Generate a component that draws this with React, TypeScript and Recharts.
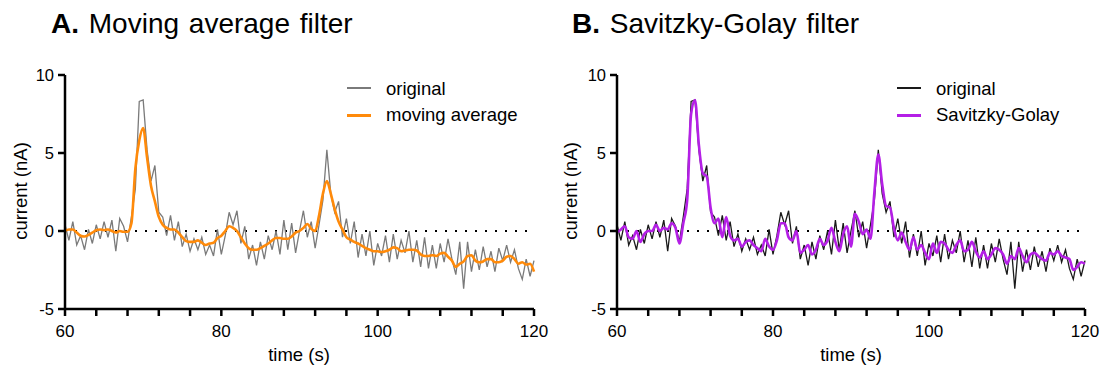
import React from 'react';
import { LineChart, Line, XAxis, YAxis, ReferenceLine } from 'recharts';

const FONT = '"Liberation Sans", Arial, Helvetica, sans-serif';

// time (s), sampled every 0.5 s
const TIME = [
  60, 60.5, 61, 61.5, 62, 62.5, 63, 63.5, 64, 64.5,
  65, 65.5, 66, 66.5, 67, 67.5, 68, 68.5, 69, 69.5,
  70, 70.5, 71, 71.5, 72, 72.5, 73, 73.5, 74, 74.5,
  75, 75.5, 76, 76.5, 77, 77.5, 78, 78.5, 79, 79.5,
  80, 80.5, 81, 81.5, 82, 82.5, 83, 83.5, 84, 84.5,
  85, 85.5, 86, 86.5, 87, 87.5, 88, 88.5, 89, 89.5,
  90, 90.5, 91, 91.5, 92, 92.5, 93, 93.5, 94, 94.5,
  95, 95.5, 96, 96.5, 97, 97.5, 98, 98.5, 99, 99.5,
  100, 100.5, 101, 101.5, 102, 102.5, 103, 103.5, 104, 104.5,
  105, 105.5, 106, 106.5, 107, 107.5, 108, 108.5, 109, 109.5,
  110, 110.5, 111, 111.5, 112, 112.5, 113, 113.5, 114, 114.5,
  115, 115.5, 116, 116.5, 117, 117.5, 118, 118.5, 119, 119.5,
  120,
];

// current (nA)
const ORIGINAL = [
  0.4, -0.6, 0.6, -0.9, -0.3, -1.2, 0.1, -0.8, 0.4, -0.5,
  0.6, -0.4, 0.7, -1.3, 0.8, 0.3, -0.7, 0.9, 2.7, 8.3,
  8.4, 5.2, 3.2, 4.2, 1.2, 0.9, -0.3, 1.0, -0.6, 0.6,
  -1.0, -0.2, -1.3, -0.5, -1.2, -0.4, -1.5, -0.9, -1.6, 0.1,
  -1.5, -0.3, 1.2, 0.4, 1.3, -0.8, 0.3, -1.8, -0.9, -2.2,
  -0.7, -1.8, -0.3, -1.2, 0.0, -1.5, 0.7, -1.2, 0.5, -1.4,
  0.0, 1.3, -0.4, 0.6, -1.1, 0.4, 2.0, 5.2, 2.4, 1.2,
  1.9, -0.4, 0.8, -0.8, 0.6, -1.7, -0.2, -1.6, 0.0, -2.2,
  -0.8, -1.6, -0.3, -2.0, -0.2, -1.8, -0.6, -1.4, 0.0, -2.0,
  -0.6, -2.3, -0.4, -2.4, -0.9, -2.4, -0.8, -2.0, -0.5, -1.8,
  -2.8, -0.7, -3.7, -0.7, -2.6, -1.2, -2.5, -1.0, -2.3, -1.3,
  -2.6, -1.1, -1.9, -0.9, -2.0, -1.2, -2.4, -3.1, -1.8, -2.9,
  -1.9,
];

const MOVING_AVG = [
  0.0, 0.1, 0.1, -0.1, -0.3, -0.35, -0.25, -0.1, 0.05, 0.1,
  0.05, 0.1, 0.0, -0.1, 0.0, -0.05, -0.05, 0.5, 4.0, 5.8,
  6.6, 4.7, 2.9, 1.9, 0.9, 0.4, 0.2, 0.1, 0.1, -0.1,
  -0.4, -0.65, -0.7, -0.7, -0.6, -0.75, -0.9, -0.8, -0.75, -0.45,
  -0.3, 0.0, 0.3, 0.2, 0.0, -0.4, -0.8, -1.1, -1.2, -1.2,
  -1.1, -0.95, -0.8, -0.6, -0.45, -0.45, -0.5, -0.5, -0.35, -0.1,
  0.0, 0.2, 0.45, 0.15, 0.0, 1.0, 2.4, 3.2, 2.4, 1.4,
  0.6, 0.1, -0.4, -0.55, -0.7, -0.8, -0.95, -1.1, -1.2, -1.3,
  -1.3, -1.35, -1.3, -1.2, -1.05, -1.1, -1.3, -1.25, -1.2, -1.2,
  -1.25, -1.5, -1.6, -1.6, -1.55, -1.6, -1.45, -1.4, -1.65, -1.9,
  -2.3, -2.1, -1.95, -1.6, -1.55, -1.9, -2.0, -1.95, -1.8, -1.8,
  -2.0, -2.0, -1.9, -1.65, -1.6, -1.8, -2.1, -2.0, -2.15, -2.1,
  -2.6,
];

const SAVGOL = [
  -0.1, 0.1, 0.3, -0.4, -0.5, 0.0, -0.7, -0.2, 0.0, 0.0,
  0.4, 0.0, 0.2, 0.1, 0.5, 0.2, -0.8, 0.5, 2.0, 7.5,
  8.4, 5.5, 3.7, 3.5, 1.5, 0.5, 0.8, -0.4, 0.9, -0.3,
  -0.6, -0.5, -1.0, -0.7, -0.6, -0.9, -1.1, -1.3, -0.5, -1.0,
  -1.2, -0.6, 0.5, 0.5, -0.4, -0.6, 0.0, -1.4, -1.2, -0.9,
  -1.5, -1.2, -0.5, -0.9, -0.6, 0.2, -0.7, -1.3, -0.2, 0.3,
  -1.0, 1.1, 0.6, -0.2, 0.1, -0.5, 2.5, 4.9, 3.0, 1.6,
  1.5, 0.2, -0.6, -0.1, -0.7, -1.2, -0.4, -1.2, -0.9, -1.4,
  -1.8, -0.8, -1.4, -0.7, -0.8, -1.2, -1.4, -0.9, -0.6, -1.3,
  -1.2, -0.7, -1.3, -1.7, -1.3, -1.8, -1.5, -1.1, -1.2, -1.5,
  -2.1, -1.6, -1.8, -1.1, -1.6, -2.0, -1.5, -1.4, -1.6, -1.8,
  -1.9, -1.4, -1.5, -1.3, -1.6, -1.7, -1.8, -2.5, -2.3, -2.0,
  -2.1,
];

const X_TICKS = [60, 64, 68, 72, 76, 80, 84, 88, 92, 96, 100, 104, 108, 112, 116, 120];
const Y_TICKS = [-5, 0, 5, 10];

const rows = TIME.map((t, i) => ({ t, orig: ORIGINAL[i], ma: MOVING_AVG[i], sg: SAVGOL[i] }));

function Panel({ left, letter, title, titleLeft, yWidth, plotRight, xLabelX, filtKey, filtName, filtColor, origColor }: any) {
  return (
    <div style={{ position: 'absolute', left, top: 0, width: 550, height: 369 }}>
      <div style={{ position: 'absolute', left: titleLeft, top: 8, fontSize: 28, fontFamily: FONT, color: '#000', whiteSpace: 'nowrap', wordSpacing: 2 }}>
        <b>{letter}</b> {title}
      </div>
      <LineChart width={550} height={369} data={rows} margin={{ top: 75, right: 550 - plotRight, bottom: 10, left: 0 }}>
        <XAxis
          dataKey="t"
          type="number"
          domain={[60, 120]}
          ticks={X_TICKS}
          interval={0}
          tickFormatter={(v: number) => (v % 20 === 0 ? String(v) : '')}
          height={50}
          axisLine={{ stroke: '#000', strokeWidth: 2.5 }}
          tickLine={{ stroke: '#000', strokeWidth: 2.5 }}
          tickSize={7}
          tickMargin={9}
          tick={{ fill: '#000', fontSize: 17, fontFamily: FONT }}
        />
        <YAxis
          type="number"
          domain={[-5, 10]}
          ticks={Y_TICKS}
          interval={0}
          width={yWidth}
          axisLine={{ stroke: '#000', strokeWidth: 2.5 }}
          tickLine={{ stroke: '#000', strokeWidth: 2.5 }}
          tickSize={7}
          tickMargin={4}
          tick={{ fill: '#000', fontSize: 16.5, fontFamily: FONT }}
        />
        <ReferenceLine y={0} stroke="#000" strokeWidth={2} strokeDasharray="2 8" />
        <Line type="linear" dataKey="orig" stroke={origColor} strokeWidth={1.3} dot={false} isAnimationActive={false} />
        <Line type="monotone" dataKey={filtKey} stroke={filtColor} strokeWidth={2.6} dot={false} isAnimationActive={false} />
      </LineChart>
      <div style={{ position: 'absolute', left: 21 - 70, top: 191 - 12, width: 140, textAlign: 'center', transform: 'rotate(-90deg)', fontSize: 18.5, fontFamily: FONT, lineHeight: '24px', color: '#000' }}>
        current (nA)
      </div>
      <div style={{ position: 'absolute', left: xLabelX - 60, top: 343, width: 120, textAlign: 'center', fontSize: 18.5, fontFamily: FONT, lineHeight: '24px', color: '#000' }}>
        time (s)
      </div>
      <div style={{ position: 'absolute', left: 347, top: 88 - 1, width: 24, height: 1.5, background: origColor }} />
      <div style={{ position: 'absolute', left: 386, top: 89 - 12, fontSize: 18.5, fontFamily: FONT, lineHeight: '24px', color: '#000', whiteSpace: 'nowrap' }}>original</div>
      <div style={{ position: 'absolute', left: 347, top: 115 - 1.5, width: 24, height: 3, background: filtColor }} />
      <div style={{ position: 'absolute', left: 386, top: 115 - 12, fontSize: 18.5, fontFamily: FONT, lineHeight: '24px', color: '#000', whiteSpace: 'nowrap' }}>{filtName}</div>
    </div>
  );
}

export default function App() {
  return (
    <div style={{ position: 'absolute', left: 0, top: 0, width: 1100, height: 369, background: '#fff' }}>
      <Panel left={0} letter="A." title="Moving average filter" titleLeft={51} yWidth={65} plotRight={534} xLabelX={299}
        filtKey="ma" filtName="moving average" filtColor="#ff8a0a" origColor="#7a7a7a" />
      <Panel left={550} letter="B." title="Savitzky-Golay filter" titleLeft={22} yWidth={67} plotRight={535} xLabelX={301}
        filtKey="sg" filtName="Savitzky-Golay" filtColor="#b41fe6" origColor="#1a1a1a" />
    </div>
  );
}
